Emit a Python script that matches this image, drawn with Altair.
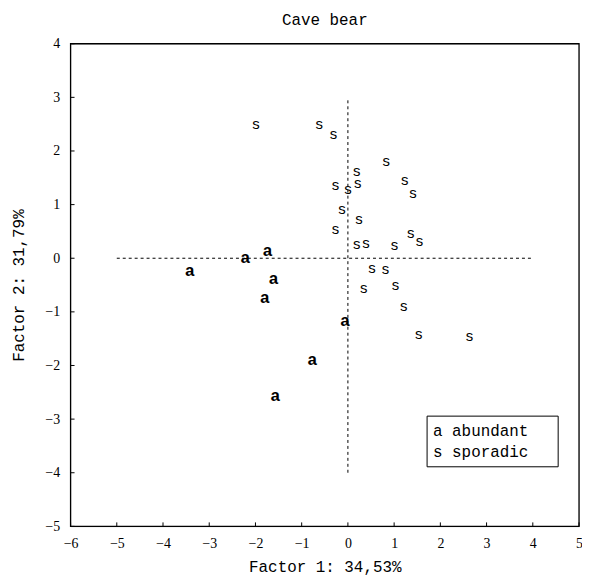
import altair as alt
import pandas as pd

# "a" = abundant, "s" = sporadic  (Factor 1, Factor 2 scores)
a_x = [-1.74, -2.22, -3.42, -1.61, -1.80, -0.06, -0.77, -1.57]
a_y = [0.14, 0.00, -0.23, -0.38, -0.75, -1.18, -1.89, -2.57]

s_x = [-1.99, -0.62, -0.31, 0.83, 0.19, -0.27, 0.00, 0.21, 1.23, 1.41,
       -0.13, 0.24, -0.27, 0.19, 0.39, 1.01, 1.36, 1.55, 0.52, 0.81,
       0.34, 1.03, 1.21, 1.53, 2.63]
s_y = [2.50, 2.50, 2.31, 1.81, 1.62, 1.36, 1.29, 1.40, 1.46, 1.22,
       0.92, 0.73, 0.54, 0.27, 0.28, 0.24, 0.47, 0.33, -0.18, -0.20,
       -0.56, -0.50, -0.90, -1.41, -1.46]

x_ticks = list(range(-6, 6))
y_ticks = list(range(-5, 5))

hline_x = [-5, 4]
vline_y = [-4, 3]

legend_lines = ["a abundant", "s sporadic"]

W, H = 512, 486
MONO = "Liberation Mono"
SERIF = "Liberation Serif"

xs = alt.Scale(domain=[-6, 5], nice=False, zero=False)
ys = alt.Scale(domain=[-5, 4], nice=False, zero=False)

X = alt.X("x:Q", scale=xs, axis=alt.Axis(
    values=x_ticks, title="Factor 1: 34,53%", ticks=False, tickSize=0,
    grid=False, domain=False, labelFont=SERIF, labelFontSize=14,
    labelPadding=10, labelFlush=False, labelOverlap=False,
    titleFont=MONO, titleFontSize=16, titleFontWeight="normal",
    titlePadding=8, labelColor="black", titleColor="black"))
Y = alt.Y("y:Q", scale=ys, axis=alt.Axis(
    values=y_ticks, title="Factor 2: 31,79%", ticks=False, tickSize=0,
    grid=False, domain=False, labelFont=SERIF, labelFontSize=14,
    labelPadding=11, labelFlush=False, labelOverlap=False,
    titleFont=MONO, titleFontSize=16, titleFontWeight="normal",
    titlePadding=18, labelColor="black", titleColor="black"))

a_df = pd.DataFrame({"x": a_x, "y": a_y, "t": ["a"] * len(a_x)})
s_df = pd.DataFrame({"x": s_x, "y": s_y, "t": ["s"] * len(s_x)})

a_layer = alt.Chart(a_df).mark_text(
    font=MONO, fontSize=17, fontWeight="bold", color="black",
    align="center", baseline="middle").encode(x=X, y=Y, text="t:N")
s_layer = alt.Chart(s_df).mark_text(
    font="Liberation Sans", fontSize=15, color="black",
    align="center", baseline="middle").encode(x=X, y=Y, text="t:N")

h_df = pd.DataFrame({"x": [hline_x[0]], "x2": [hline_x[1]], "y": [0]})
v_df = pd.DataFrame({"x": [0], "y": [vline_y[0]], "y2": [vline_y[1]]})
hline = alt.Chart(h_df).mark_rule(color="black", strokeWidth=1, strokeDash=[3, 3]).encode(
    x=X, x2="x2:Q", y=Y)
vline = alt.Chart(v_df).mark_rule(color="black", strokeWidth=1, strokeDash=[3, 3]).encode(
    x=X, y=Y, y2="y2:Q")

xt_df = pd.DataFrame({"x": x_ticks})
yt_df = pd.DataFrame({"y": y_ticks})
xticks = alt.Chart(xt_df).mark_rule(color="black", strokeWidth=1).encode(
    x=X, y=alt.value(H), y2=alt.value(H - 4))
yticks = alt.Chart(yt_df).mark_rule(color="black", strokeWidth=1).encode(
    y=Y, x=alt.value(0), x2=alt.value(4))

# plot frame
frame = alt.Chart(pd.DataFrame({"k": [0]})).mark_rect(
    fill=None, stroke="black", strokeWidth=1.3).encode(
    x=alt.value(0), x2=alt.value(W), y=alt.value(0), y2=alt.value(H))

# legend box (drawn inside the plot, lower right)
box = alt.Chart(pd.DataFrame({"k": [0]})).mark_rect(
    fill="white", stroke="black", strokeWidth=1).encode(
    x=alt.value(359), x2=alt.value(491), y=alt.value(375), y2=alt.value(426))
leg1 = alt.Chart(pd.DataFrame({"t": [legend_lines[0]]})).mark_text(
    font=MONO, fontSize=16, color="black", align="left", baseline="middle").encode(
    x=alt.value(365), y=alt.value(390), text="t:N")
leg2 = alt.Chart(pd.DataFrame({"t": [legend_lines[1]]})).mark_text(
    font=MONO, fontSize=16, color="black", align="left", baseline="middle").encode(
    x=alt.value(365), y=alt.value(411), text="t:N")

chart = alt.layer(hline, vline, xticks, yticks, s_layer, a_layer, box, leg1, leg2, frame).properties(
    width=W, height=H,
    title=alt.TitleParams("Cave bear", font=MONO, fontSize=16, fontWeight="normal",
                          color="black", anchor="middle", offset=9),
    autosize=alt.AutoSizeParams(type="none"),
    padding={"left": 63, "top": 34, "right": 3, "bottom": 48},
).configure_view(stroke=None).configure(background="white")

chart.save("out.html", embed_options={"renderer": "svg", "actions": False})
